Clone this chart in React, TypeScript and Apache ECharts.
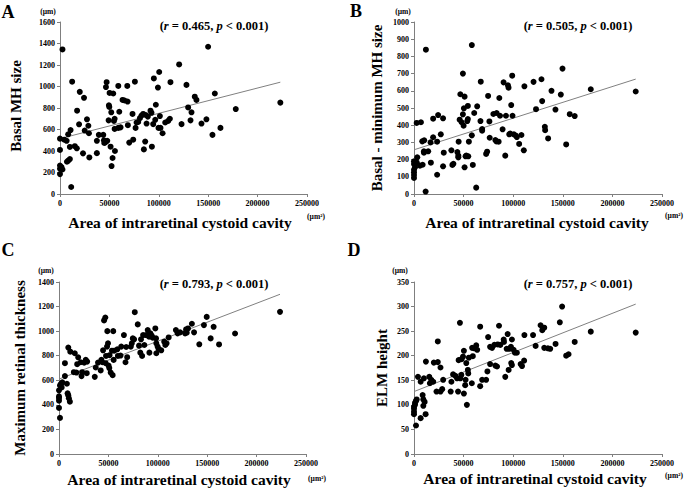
import React, { useEffect, useRef } from 'react';
import * as echarts from 'echarts';

const FONT = '"Liberation Serif", "Times New Roman", serif';

const xTickMax = 250000;
const xTickStep = 50000;
const yMaxes = [1600, 1000, 1400, 350];
const ySteps = [200, 100, 200, 50];
const letters = ['A', 'B', 'C', 'D'];
const yTitles = ['Basal MH size', 'Basal - minimum MH size', 'Maximum retinal thickness', 'ELM height'];
const rValues = ['0.465', '0.505', '0.793', '0.757'];
const xTitle = 'Area of intraretinal cystoid cavity';

const pointsA = [
  [0,515],[0,410],[0,265],[1500,250],[0,235],[2500,228],[0,185],[2500,1345],[4300,505],[6700,495],[8300,555],[10700,595],[10000,438],[7000,300],[8300,310],[10000,325],[11300,65],[12300,1045],[15000,445],[17000,425],[17300,775],[19300,648],[20000,950],[23300,378],[24300,895],[25000,590],[27300,695],[28700,635],[29300,565],[29700,340],[37300,495],[37300,380],[39300,550],
  [43800,550],[44500,500],[44800,475],[45800,480],[46500,995],[47200,1040],[47800,495],[49200,685],[49500,825],[49900,810],[50200,940],[51200,440],[51900,760],[52200,260],[53200,335],[53900,935],[54600,680],[55300,700],[55300,605],[55600,400],[59000,1005],[59000,615],[60000,765],[61300,620],
  [63300,875],[65400,870],[68100,1005],[68400,860],[68700,640],[70100,478],[73400,745],[74100,505],[75800,1045],[76500,615],[77500,665],[79200,670],[80900,705],[82500,730],[84200,745],[84900,415],[86200,488],[86900,735],[87600,655],[88900,720],[91600,775],[92600,755],[93000,440],[94300,650],[95000,1075],[96400,690],[97000,830],[99100,990],[99700,615],[100400,1135],[101100,725],[101700,615],[103800,565],[106500,665],[109500,680],[111200,700],[111800,1040],[120600,1205],[123000,650],[128000,1015],[129700,805],[132100,685],[133100,760],[136400,905],[138100,875],[143200,655],[148200,695],[149900,1370],[154300,550],[156700,935],[162400,615],[177900,790],[223000,850]
];
const trendA = [[0, 515], [223000, 1040]];

const pointsB = [
  [0,190],[0,174],[1000,155],[0,141],[0,126],[0,110],[0,93],[2700,184],[2700,413],[7000,417],[3300,213],[8300,306],[10300,312],[10000,248],[10000,240],[14300,248],[8700,170],[6000,165],[11700,14],[12000,839],[16700,300],[19300,330],[17000,182],[19300,438],[23300,304],[24300,459],[23300,112],[27000,347],[29300,440],[29300,161],[30000,240],[37700,254],[38700,169],[39700,176],[43700,244],[44700,223],[44700,213],[45000,304],[46000,432],[46700,580],[48000,417],[49300,463],[49300,700],[50300,498],[50000,397],[51000,566],[51000,155],[52000,219],[52700,223],[53700,424],[54300,436],[54700,219],[54300,512],[55300,304],[58300,341],[58300,866],[59300,169],[60700,471],[62700,37],[63700,510],[67300,653],[67000,424],[68700,378],[68700,368],[72700,233],[73700,246],[74700,570],[76000,422],[76300,327],[80000,465],[82000,314],[83000,306],[83300,471],[86700,455],[86000,558],[85300,304],[89300,376],[90300,649],[92000,223],[92700,455],[94700,632],[95300,618],[96000,347],[97000,351],[98000,517],[99000,688],[99300,455],[100700,347],[102700,339],[103700,331],[106000,291],[108300,343],[110700,254],[111300,626],[120500,652],[123000,493],[128500,667],[129200,540],[131900,391],[132200,371],[135200,323],[138600,600],[142600,491],[148000,578],[149700,729],[153400,288],[157000,464],[162000,453],[178200,609],[223500,596]
];
const trendB = [[0, 257], [223500, 668]];

const pointsC = [
  [1000,294],[0,375],[0,434],[0,456],[0,469],[0,518],[1000,558],[2000,572],[3300,583],[2700,542],[6000,634],[6000,739],[8000,572],[8700,494],[9400,477],[10000,453],[11000,426],[9400,866],[11400,833],[15000,666],[16000,820],[17700,663],[19400,787],[18400,731],[22000,747],[22800,634],[23400,666],[25500,744],[27100,766],[28500,752],[28100,658],[36200,628],[37200,704],[39500,744],[42200,680],[42900,766],[43900,747],[44600,844],[45600,1087],[46900,1111],[47200,739],[47600,798],[48600,874],[48900,1000],[49600,901],[50200,720],[50900,699],[51200,804],[52300,663],[53600,841],[54300,642],[54900,1000],[55300,766],[55900,841],[59600,798],[59000,852],[63000,874],[62300,801],[65700,968],[68000,871],[67300,747],[69000,788],[72700,874],[73700,901],[74700,941],[76000,933],[76700,1154],[79700,1055],[81000,882],[82300,825],[83000,933],[84100,798],[85100,968],[86400,887],[88100,968],[89800,1009],[91100,955],[91500,825],[92500,982],[93800,963],[94800,947],[97500,1022],[98200,941],[98500,901],[99800,874],[98500,820],[100800,855],[103500,844],[106500,914],[107600,887],[108900,901],[111000,949],[118300,1009],[120000,982],[122600,990],[127600,982],[128600,1014],[129300,987],[130600,1022],[134500,1060],[136700,990],[142000,893],[146700,1049],[149500,1116],[153500,941],[156500,1035],[162000,892],[178200,981],[223700,1157]
];
const trendC = [[0, 610], [223700, 1300]];

const pointsD = [
  [2000,58],[0,81],[0,86],[0,92],[0,96],[1000,100],[1000,104],[2000,108],[2700,111],[4000,157],[6700,73],[6700,147],[8700,120],[9400,111],[9400,98],[10700,106],[11700,81],[10000,154],[12000,188],[15400,157],[16000,144],[17400,151],[19400,147],[20000,186],[22700,127],[24000,187],[24000,229],[26700,176],[26700,127],[28400,132],[29400,151],[37000,127],[37700,147],[39400,162],[41700,159],[43400,154],[44400,127],[45000,191],[46300,267],[46700,154],[47700,161],[48000,193],[49400,198],[50300,123],[50300,210],[51600,140],[52000,151],[52700,185],[53300,100],[54300,171],[54700,164],[55300,196],[58600,216],[58300,144],[59300,199],[61000,215],[62700,221],[63700,212],[66700,259],[66700,138],[68700,151],[72700,151],[74000,168],[74700,238],[76700,183],[76700,218],[78700,216],[81000,222],[82000,180],[83700,178],[84400,223],[85700,261],[87000,222],[90400,233],[90700,228],[92000,157],[93400,214],[94400,244],[95400,171],[96000,214],[97700,218],[98000,185],[98700,181],[98700,233],[100400,212],[101700,206],[103700,206],[107500,183],[108900,179],[111000,190],[111300,242],[120000,242],[122600,220],[127600,262],[129300,252],[131300,257],[131300,216],[135000,215],[137300,214],[142700,224],[147000,268],[149300,300],[153400,200],[155800,203],[162000,228],[178200,249],[223500,247]
];
const trendD = [[0, 127], [223500, 305]];

const allPoints = [pointsA, pointsB, pointsC, pointsD];
const allTrends = [trendA, trendB, trendC, trendD];

const grids = [
  { left: 60, top: 22, width: 247, height: 172 },
  { left: 414, top: 22, width: 248, height: 172 },
  { left: 59, top: 282, width: 247, height: 172 },
  { left: 414, top: 282, width: 248, height: 172 },
];

const axisColor = '#7f7f7f';
const plain = (v: number) => String(v);

function buildOption() {
  const labelCfg = { fontFamily: FONT, fontWeight: 'bold', fontSize: 8, color: '#000000', margin: 5, formatter: plain };
  const xAxis = grids.map((_, i) => ({
    type: 'value', gridIndex: i, min: 0, max: xTickMax, interval: xTickStep,
    axisLine: { show: true, lineStyle: { color: axisColor, width: 1 } },
    axisTick: { show: true, inside: false, length: 3, lineStyle: { color: axisColor } },
    splitLine: { show: false },
    axisLabel: { ...labelCfg },
  }));
  const yAxis = grids.map((_, i) => ({
    type: 'value', gridIndex: i, min: 0, max: yMaxes[i], interval: ySteps[i],
    axisLine: { show: true, lineStyle: { color: axisColor, width: 1 } },
    axisTick: { show: true, inside: false, length: 3, lineStyle: { color: axisColor } },
    splitLine: { show: false },
    axisLabel: { ...labelCfg },
  }));
  const series: any[] = [];
  allPoints.forEach((pts, i) => {
    series.push({
      type: 'line', xAxisIndex: i, yAxisIndex: i, data: allTrends[i], showSymbol: false, symbol: 'none',
      lineStyle: { color: '#808080', width: 1 }, silent: true, z: 1,
    });
    series.push({
      type: 'scatter', xAxisIndex: i, yAxisIndex: i, data: pts, symbol: 'circle', symbolSize: 6,
      itemStyle: { color: '#000000', opacity: 1 }, z: 2,
    });
  });

  const graphic: any[] = [];
  const letterPos = [[8, 12], [356, 11], [8, 250], [354, 250]];
  const umPos = [[48, 11], [403, 11], [46, 270], [400, 270]];
  const um2Pos = [[316, 216], [674, 215], [317, 478], [674, 475]];
  const yTitlePos = [[16, 106], [377, 108], [20, 368], [382, 368]];
  const xTitlePos = [[180, 222], [537, 222], [179, 479], [535, 478]];
  const rPos = [[214, 26], [578, 26], [214, 284], [578, 284]];
  for (let i = 0; i < 4; i++) {
    graphic.push({ type: 'text', x: letterPos[i][0], y: letterPos[i][1], style: { text: letters[i], fontFamily: FONT, fontWeight: 'bold', fontSize: 18, fill: '#000', align: 'center', verticalAlign: 'middle' } });
    graphic.push({ type: 'text', x: umPos[i][0], y: umPos[i][1], style: { text: '(µm)', fontFamily: FONT, fontWeight: 'bold', fontSize: 7.5, fill: '#000', align: 'center', verticalAlign: 'middle' } });
    graphic.push({ type: 'text', x: um2Pos[i][0], y: um2Pos[i][1], style: { text: '(µm²)', fontFamily: FONT, fontWeight: 'bold', fontSize: 7.5, fill: '#000', align: 'center', verticalAlign: 'middle' } });
    graphic.push({ type: 'text', x: yTitlePos[i][0], y: yTitlePos[i][1], rotation: Math.PI / 2, style: { text: yTitles[i], fontFamily: FONT, fontWeight: 'bold', fontSize: 15, fill: '#000', align: 'center', verticalAlign: 'middle' } });
    graphic.push({ type: 'text', x: xTitlePos[i][0], y: xTitlePos[i][1], style: { text: xTitle, fontFamily: FONT, fontWeight: 'bold', fontSize: 15.5, fill: '#000', align: 'center', verticalAlign: 'middle' } });
    graphic.push({
      type: 'text', x: rPos[i][0], y: rPos[i][1],
      style: {
        text: '({i|r} = ' + rValues[i] + ', {i|p} < 0.001)',
        fontFamily: FONT, fontWeight: 'bold', fontSize: 12.5, fill: '#000', align: 'center', verticalAlign: 'middle',
        rich: { i: { fontFamily: FONT, fontWeight: 'bold', fontStyle: 'italic', fontSize: 12.5, fill: '#000' } },
      },
    });
  }

  return { animation: false, backgroundColor: '#fff', textStyle: { color: '#000' }, grid: grids, xAxis, yAxis, series, graphic };
}

export default function App() {
  const ref = useRef<HTMLDivElement>(null);
  useEffect(() => {
    const chart = echarts.init(ref.current!, null, { renderer: 'svg' });
    chart.setOption(buildOption() as any);
    return () => chart.dispose();
  }, []);
  return <div ref={ref} style={{ position: 'absolute', left: 0, top: 0, width: 685, height: 491, background: '#fff' }} />;
}
